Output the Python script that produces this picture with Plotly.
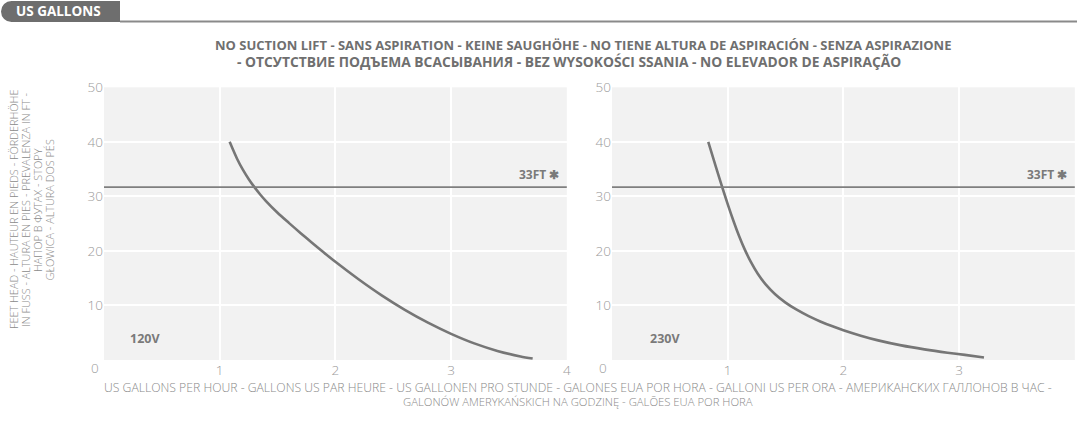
import plotly.graph_objects as go

# ---- data ----
flow_120v = [1.086, 1.15, 1.2, 1.25, 1.3, 1.35, 1.4, 1.5, 1.6, 1.7, 1.8, 1.9, 2.0, 2.2, 2.4, 2.6, 2.8, 3.0,
             3.2, 3.4, 3.6, 3.705]
head_120v = [40.0, 36.9, 34.9, 33.2, 31.7, 30.35, 29.15, 27.0, 25.1, 23.25, 21.45, 19.7, 18.0, 14.8, 11.85,
             9.2, 6.85, 4.8, 3.05, 1.67, 0.65, 0.26]
flow_230v = [0.832, 0.9, 0.953, 1.0, 1.05, 1.1, 1.145, 1.2, 1.26, 1.33, 1.41, 1.5, 1.6, 1.7, 1.8, 1.9, 2.0,
             2.15, 2.3, 2.5, 2.7, 2.9, 3.05, 3.215]
head_230v = [40.0, 35.27, 31.67, 28.59, 25.49, 22.64, 20.37, 17.98, 15.82, 13.82, 12.06, 10.53, 9.17, 8.04,
             7.07, 6.22, 5.46, 4.46, 3.6, 2.68, 1.95, 1.34, 0.94, 0.47]
max_lift = 31.7
x_ticks = [1, 2, 3, 4]
y_ticks = [10, 20, 30, 40, 50]
panel_labels = ["120V", "230V"]

title_lines = ["NO SUCTION LIFT - SANS ASPIRATION - KEINE SAUGHÖHE - NO TIENE ALTURA DE ASPIRACIÓN - SENZA ASPIRAZIONE",
               "- ОТСУТСТВИЕ ПОДЪЕМА ВСАСЫВАНИЯ - BEZ WYSOKOŚCI SSANIA - NO ELEVADOR DE ASPIRAÇÃO"]
x_title_lines = ["US GALLONS PER HOUR - GALLONS US PAR HEURE - US GALLONEN PRO STUNDE - GALONES EUA POR HORA - "
                 "GALLONI US PER ORA - АМЕРИКАНСКИХ ГАЛЛОНОВ В ЧАС -",
                 "GALONÓW AMERYKAŃSKICH NA GODZINĘ - GALÕES EUA POR HORA"]
y_title_lines = ["FEET HEAD - HAUTEUR EN PIEDS - FÖRDERHÖHE",
                 "IN FUSS - ALTURA EN PIES - PREVALENZA IN FT -",
                 "НАПОР В ФУТАХ - STOPY",
                 "GŁOWICA - ALTURA DOS PÉS"]

W, H = 1077, 423
CURVE = "#767676"
TICK = "#9a9a9a"
FONT = "Open Sans"

fig = go.Figure()

fig.add_trace(go.Scatter(x=flow_120v, y=head_120v, mode="lines",
                         line=dict(color=CURVE, width=2.6, shape="spline", smoothing=0.8),
                         xaxis="x", yaxis="y", hoverinfo="skip"))
fig.add_trace(go.Scatter(x=flow_230v, y=head_230v, mode="lines",
                         line=dict(color=CURVE, width=2.6, shape="spline", smoothing=0.8),
                         xaxis="x2", yaxis="y2", hoverinfo="skip"))

ydom = [(H - 360) / H, (H - 87.3) / H]
xdom1 = [104 / W, 566.8 / W]
xdom2 = [612 / W, 1074.8 / W]

axcommon = dict(showgrid=True, gridcolor="white", gridwidth=1.5, zeroline=False, showline=False,
                automargin=False, ticks="", tickfont=dict(family=FONT, size=13.5, color=TICK, weight=300))

fig.update_layout(
    width=W, height=H, autosize=False,
    margin=dict(l=0, r=0, t=0, b=0, pad=0),
    paper_bgcolor="white", plot_bgcolor="#f2f2f2",
    showlegend=False,
    xaxis=dict(domain=xdom1, range=[0, 4], tickvals=x_ticks, anchor="y", **axcommon),
    yaxis=dict(domain=ydom, range=[0, 50], tickvals=y_ticks, anchor="x", **axcommon),
    xaxis2=dict(domain=xdom2, range=[0, 4], tickvals=x_ticks, anchor="y2", **axcommon),
    yaxis2=dict(domain=ydom, range=[0, 50], tickvals=y_ticks, anchor="x2", **axcommon),
)

shapes = []
annotations = []
for i, (xa, ya) in enumerate([("x", "y"), ("x2", "y2")]):
    shapes.append(dict(type="line", xref=f"{xa} domain", yref=ya, x0=0, x1=1, y0=max_lift, y1=max_lift,
                       line=dict(color="#7f7f7f", width=1.6), layer="above"))
    annotations.append(dict(xref=f"{xa} domain", yref=ya, x=0.988, y=max_lift, xanchor="right", yanchor="bottom",
                            yshift=2, showarrow=False, text="33FT ✱",
                            font=dict(family=FONT, size=12, color="#7a7a7a", weight="bold")))
    annotations.append(dict(xref=f"{xa} domain", yref=ya, x=0.052 if i == 0 else 0.077, y=3.9,
                            xanchor="left", yanchor="middle", showarrow=False, text=panel_labels[i],
                            font=dict(family=FONT, size=12.5, color="#7a7a7a", weight="bold")))
    annotations.append(dict(xref=f"{xa} domain", yref=f"{ya} domain", x=0, y=0, xanchor="center",
                            yanchor="middle", xshift=-9, yshift=-8, showarrow=False, text="0",
                            font=dict(family=FONT, size=13.5, color=TICK, weight=300)))

# header tab
shapes.append(dict(type="circle", xref="paper", yref="paper", x0=1 / W, x1=22 / W,
                   y0=1 - 22 / H, y1=1 - 1 / H, fillcolor="#6e6e6e", line=dict(width=0)))
shapes.append(dict(type="rect", xref="paper", yref="paper", x0=11 / W, x1=120 / W,
                   y0=1 - 22 / H, y1=1 - 1 / H, fillcolor="#6e6e6e", line=dict(width=0)))
shapes.append(dict(type="line", xref="paper", yref="paper", x0=120 / W, x1=1, y0=1 - 21.5 / H, y1=1 - 21.5 / H,
                   line=dict(color="#8a8a8a", width=2)))
annotations.append(dict(xref="paper", yref="paper", x=14 / W, y=1 - 11.5 / H, xanchor="left", yanchor="middle",
                        showarrow=False, text="US GALLONS",
                        font=dict(family=FONT, size=13.5, color="white", weight="bold")))

for txt, cx, cy, fs in zip(title_lines, [583, 569], [45, 62], [13, 13.8]):
    annotations.append(dict(xref="paper", yref="paper", x=cx / W, y=1 - cy / H, xanchor="center",
                            yanchor="middle", showarrow=False, text=txt,
                            font=dict(family=FONT, size=fs, color="#6f6f6f", weight="bold")))
for txt, cy, fs in zip(x_title_lines, [387.5, 401.5], [12.2, 11.3]):
    annotations.append(dict(xref="paper", yref="paper", x=578 / W, y=1 - cy / H, xanchor="center",
                            yanchor="middle", showarrow=False, text=txt,
                            font=dict(family=FONT, size=fs, color="#8a8a8a", weight=300)))
for txt, cx in zip(y_title_lines, [13, 25, 37, 48.5]):
    annotations.append(dict(xref="paper", yref="paper", x=cx / W, y=1 - 210 / H, xanchor="center",
                            yanchor="middle", showarrow=False, text=txt, textangle=-90,
                            font=dict(family=FONT, size=10.9, color="#8a8a8a", weight=300)))

fig.update_layout(shapes=shapes, annotations=annotations)
fig.write_html("out.html",
               config={"displayModeBar": False, "responsive": False},
               post_script=("document.body.style.margin='0';document.body.style.padding='0';"
                            "document.body.style.overflow='hidden';"))
